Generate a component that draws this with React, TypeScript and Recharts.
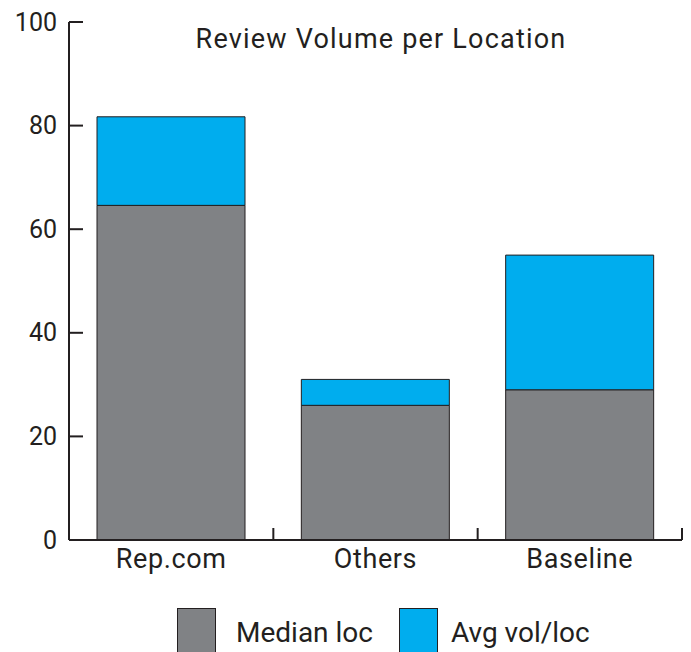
import { BarChart, Bar, XAxis, YAxis, Legend } from "recharts";

const locations = ["Rep.com", "Others", "Baseline"];
const medianLoc = [64.6, 26, 29];
const avgVolExtra = [17.1, 5, 26];
const yTicks = [0, 20, 40, 60, 80, 100];

const data = locations.map((name, i) => ({
  name,
  median: medianLoc[i],
  avg: avgVolExtra[i],
}));

const INK = "#231f20";
const GREY = "#808285";
const BLUE = "#00adee";
const FONT = "Roboto, 'Noto Sans', sans-serif";

const YTick = ({ x, y, payload }: any) => (
  <g>
    <line x1={x + 12} x2={x + 26} y1={y} y2={y} stroke={INK} strokeWidth={2} />
    <text
      x={x}
      y={y}
      textAnchor="end"
      dominantBaseline="central"
      fill={INK}
      fontSize={25}
      fontFamily={FONT}
    >
      {payload.value}
    </text>
  </g>
);

const XTick = ({ x, y, payload }: any) => {
  const edge = payload.coordinate + (payload.offset || 0);
  const axisY = y - 8;
  return (
    <g>
      <line x1={edge} x2={edge} y1={axisY} y2={axisY - 12} stroke={INK} strokeWidth={2} />
      <text
        x={x}
        y={y}
        textAnchor="middle"
        dominantBaseline="hanging"
        fill={INK}
        fontSize={27}
        letterSpacing={0.6}
        fontFamily={FONT}
      >
        {payload.value}
      </text>
    </g>
  );
};

const Swatch = ({ color }: { color: string }) => (
  <span
    style={{
      display: "inline-block",
      width: 37,
      height: 50,
      background: color,
      border: `1px solid ${INK}`,
    }}
  />
);

const LegendContent = () => (
  <div
    style={{
      display: "flex",
      alignItems: "flex-start",
      fontFamily: FONT,
      fontSize: 28,
      color: INK,
      whiteSpace: "nowrap",
    }}
  >
    <Swatch color={GREY} />
    <span style={{ marginLeft: 20, marginTop: 8 }}>Median loc</span>
    <span style={{ marginLeft: 26 }}>
      <Swatch color={BLUE} />
    </span>
    <span style={{ marginLeft: 13, marginTop: 8 }}>Avg vol/loc</span>
  </div>
);

export default function App() {
  return (
    <div style={{ position: "relative", width: 675, height: 644 }}>
      <div
        style={{
          position: "absolute",
          left: 0,
          width: 746,
          top: 15,
          textAlign: "center",
          fontFamily: FONT,
          fontSize: 27,
          letterSpacing: 1.2,
          color: INK,
          zIndex: 1,
        }}
      >
        Review Volume per Location
      </div>
      <BarChart
        width={675}
        height={644}
        data={data}
        margin={{ top: 14, right: 1, bottom: 72, left: 0 }}
      >
        <YAxis
          domain={[0, 100]}
          ticks={yTicks}
          width={61}
          tickSize={0}
          tickMargin={12}
          tickLine={false}
          axisLine={{ stroke: INK, strokeWidth: 2 }}
          tick={<YTick />}
          interval={0}
        />
        <XAxis
          dataKey="name"
          height={40}
          tickSize={0}
          tickMargin={8}
          tickLine={false}
          axisLine={{ stroke: INK, strokeWidth: 2 }}
          tick={<XTick />}
          interval={0}
        />
        <Legend
          layout="horizontal"
          verticalAlign="middle"
          align="center"
          wrapperStyle={{ top: 600, left: 169, width: 480 }}
          content={<LegendContent />}
        />
        <Bar
          dataKey="median"
          name="Median loc"
          stackId="v"
          fill={GREY}
          stroke={INK}
          strokeWidth={1}
          barSize={148}
          isAnimationActive={false}
        />
        <Bar
          dataKey="avg"
          name="Avg vol/loc"
          stackId="v"
          fill={BLUE}
          stroke={INK}
          strokeWidth={1}
          barSize={148}
          isAnimationActive={false}
        />
      </BarChart>
    </div>
  );
}
